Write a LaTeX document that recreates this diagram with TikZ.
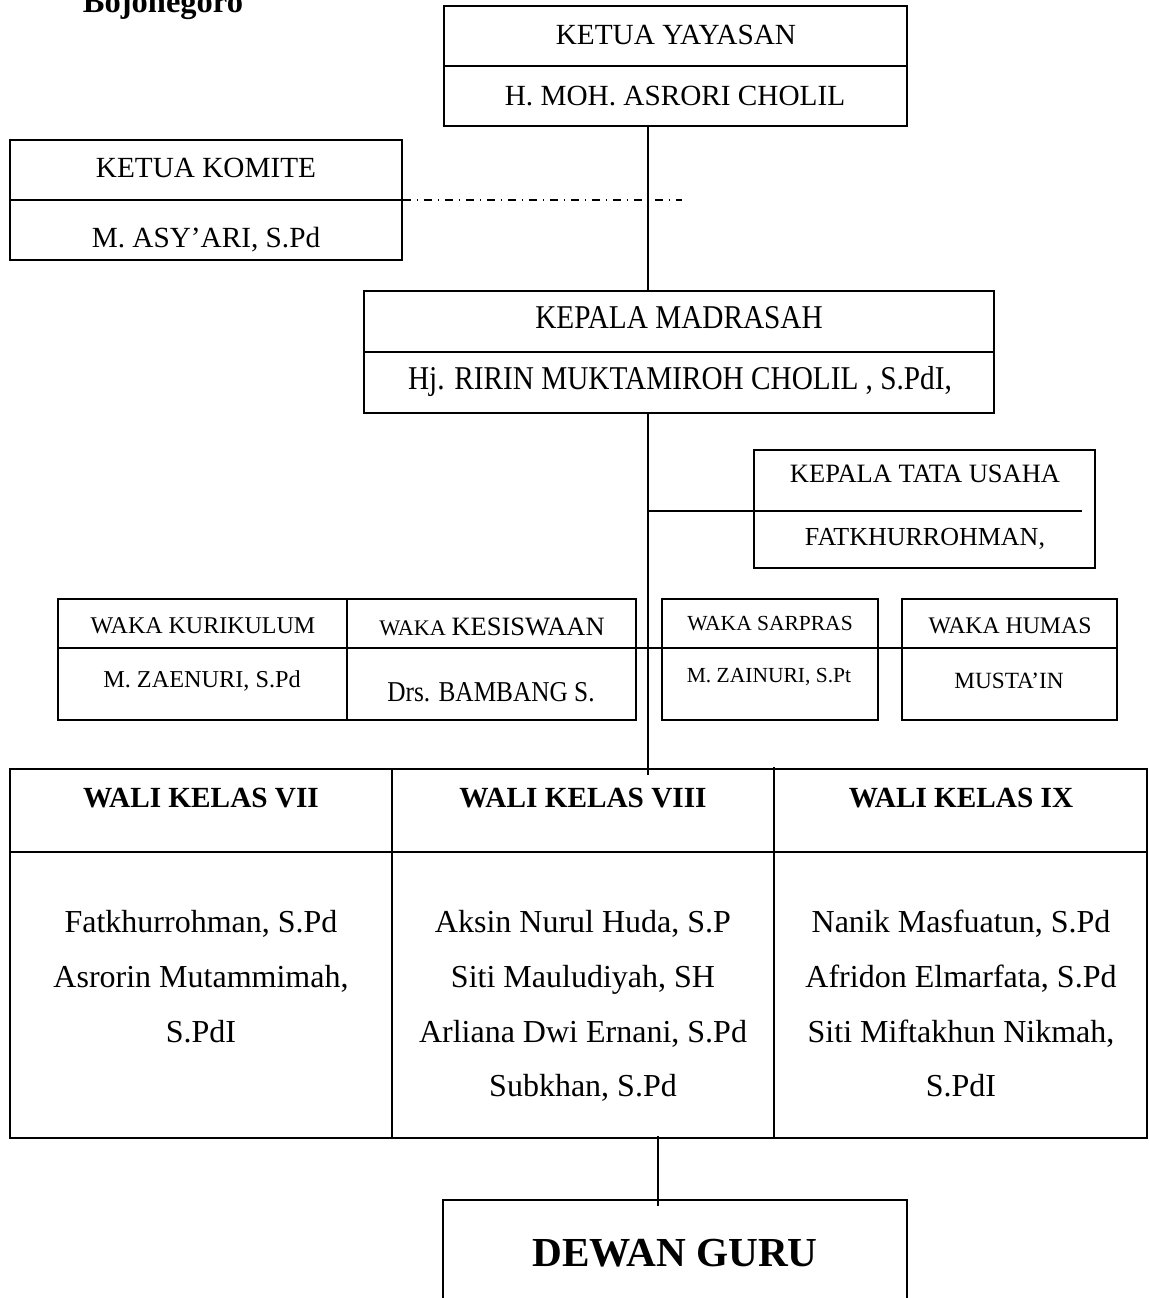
\documentclass[tikz,border=0pt]{standalone}
\usepackage{fontspec}
\setmainfont{Liberation Serif}
\newfontfamily\condfont{Liberation Serif}[FakeStretch=0.88]
\usetikzlibrary{fit}
\newcommand{\fsz}[1]{\fontsize{#1pt}{#1pt}\selectfont}
\begin{document}
\begin{tikzpicture}[x=0.4pt,y=-0.4pt,line width=0.75pt,
  frame/.style={draw,inner sep=0pt,line width=0.75pt},
  lbl/.style={anchor=base,inner sep=0pt},
  linkline/.style={draw,line width=0.75pt},
  dashdot/.style={draw,line width=0.6pt,dash pattern=on 3.4pt off 2.2pt on 0.6pt off 2.2pt}]
\useasboundingbox (0,0) rectangle (1148,1298);

% title (cut off at top, as in the reference)
\node[anchor=base west,inner sep=0pt,font=\fsz{13}\bfseries] (title) at (82,13) {Bojonegoro};

% boxes
\node[frame,fit={(444,6) (907,126)}] (yayasan) {};
\node[frame,fit={(10,140) (402,260)}] (komite) {};
\node[frame,fit={(364,291) (994,413)}] (madrasah) {};
\node[frame,fit={(754,450) (1095,568)}] (tatausaha) {};
\node[frame,fit={(58,599) (636,720)}] (wakaA) {};
\node[frame,fit={(662,599) (878,720)}] (sarpras) {};
\node[frame,fit={(902,599) (1117,720)}] (humas) {};
\node[frame,fit={(10,769) (1147,1138)}] (wali) {};

% coordinates
\coordinate (trunk) at (648,0);
\coordinate (trunkend) at (648,775);
\coordinate (dashend) at (682,200);
\coordinate (tuend) at (1082,511);
\coordinate (tustart) at (648,511);
\coordinate (wakaL) at (58,648);
\coordinate (wakaR) at (1117,648);
\coordinate (dgtop) at (658,1206);
\coordinate (dgbot) at (658,1136);

% dividers
\draw (yayasan.west) -- (yayasan.east);
\draw (komite.west) -- (komite.east);
\draw (madrasah.west) -- (madrasah.east);
\draw (wakaL) -- (wakaR);
\draw (347,599) -- (347,720);
\draw (10,852) -- (1147,852);
\draw (392,769) -- (392,1138);
\draw (774,767) -- (774,1138);

% connectors
\path[linkline] (yayasan.south -| trunk) -- (madrasah.north -| trunk);
\path[dashdot] (komite.east) -- (dashend);
\path[linkline] (madrasah.south -| trunk) -- (trunkend);
\path[linkline] (tustart) -- (tuend);
\path[linkline] (dgbot) -- (dgtop);

% dewan guru box (open at bottom)
\draw (443,1310) -- (443,1200) -- (907,1200) -- (907,1310);
\node[lbl,font=\fsz{16.5}\bfseries] (dewan) at (675,1266) {DEWAN GURU};

% texts
\node[lbl,font=\fsz{11.7}] (t1) at (676,45) {KETUA YAYASAN};
\node[lbl,font=\fsz{11.7}] (t2) at (675,106) {H. MOH. ASRORI CHOLIL};
\node[lbl,font=\fsz{11.7}] (t3) at (206,178) {KETUA KOMITE};
\node[lbl,font=\fsz{11.7}] (t4) at (206,247) {M. ASY’ARI, S.Pd};
\node[lbl,font=\condfont\fsz{13.3}] (t5) at (679,328) {KEPALA MADRASAH};
\node[lbl,font=\condfont\fsz{13.3}] (t6) at (680,389) {Hj. RIRIN MUKTAMIROH CHOLIL , S.PdI,};
\node[lbl,font=\fsz{10.6}] (t7) at (925,482) {KEPALA TATA USAHA};
\node[lbl,font=\fsz{10.4}] (t8) at (925,545) {FATKHURROHMAN,};
\node[lbl,font=\fsz{9.6}] (t9) at (203,633) {WAKA KURIKULUM};
\node[lbl,font=\fsz{9.7}] (t10) at (202,687) {M. ZAENURI, S.Pd};
\node[lbl] (t11) at (492,635) {\fsz{8.9}WAKA \fsz{10.6}KESISWAAN};
\node[lbl,font=\condfont\fsz{11.5}] (t12) at (491,701) {Drs. BAMBANG S.};
\node[lbl,font=\fsz{8.6}] (t13) at (770,630) {WAKA SARPRAS};
\node[lbl,font=\fsz{8.6}] (t14) at (769,682) {M. ZAINURI, S.Pt};
\node[lbl,font=\fsz{9.5}] (t15) at (1010,633) {WAKA HUMAS};
\node[lbl,font=\fsz{9.3}] (t16) at (1009,688) {MUSTA’IN};

\node[lbl,font=\fsz{11.7}\bfseries] (h1) at (201,807) {WALI KELAS VII};
\node[lbl,font=\fsz{11.7}\bfseries] (h2) at (583,807) {WALI KELAS VIII};
\node[lbl,font=\fsz{11.7}\bfseries] (h3) at (961,807) {WALI KELAS IX};

\node[lbl,font=\fsz{12.8}] (a1) at (201,932) {Fatkhurrohman, S.Pd};
\node[lbl,font=\fsz{12.8}] (a2) at (201,987) {Asrorin Mutammimah,};
\node[lbl,font=\fsz{12.8}] (a3) at (201,1042) {S.PdI};
\node[lbl,font=\fsz{12.8}] (b1) at (583,932) {Aksin Nurul Huda, S.P};
\node[lbl,font=\fsz{12.8}] (b2) at (583,987) {Siti Mauludiyah, SH};
\node[lbl,font=\fsz{12.8}] (b3) at (583,1042) {Arliana Dwi Ernani, S.Pd};
\node[lbl,font=\fsz{12.8}] (b4) at (583,1096) {Subkhan, S.Pd};
\node[lbl,font=\fsz{12.8}] (c1) at (961,932) {Nanik Masfuatun, S.Pd};
\node[lbl,font=\fsz{12.8}] (c2) at (961,987) {Afridon Elmarfata, S.Pd};
\node[lbl,font=\fsz{12.8}] (c3) at (961,1042) {Siti Miftakhun Nikmah,};
\node[lbl,font=\fsz{12.8}] (c4) at (961,1096) {S.PdI};
\end{tikzpicture}
\end{document}
